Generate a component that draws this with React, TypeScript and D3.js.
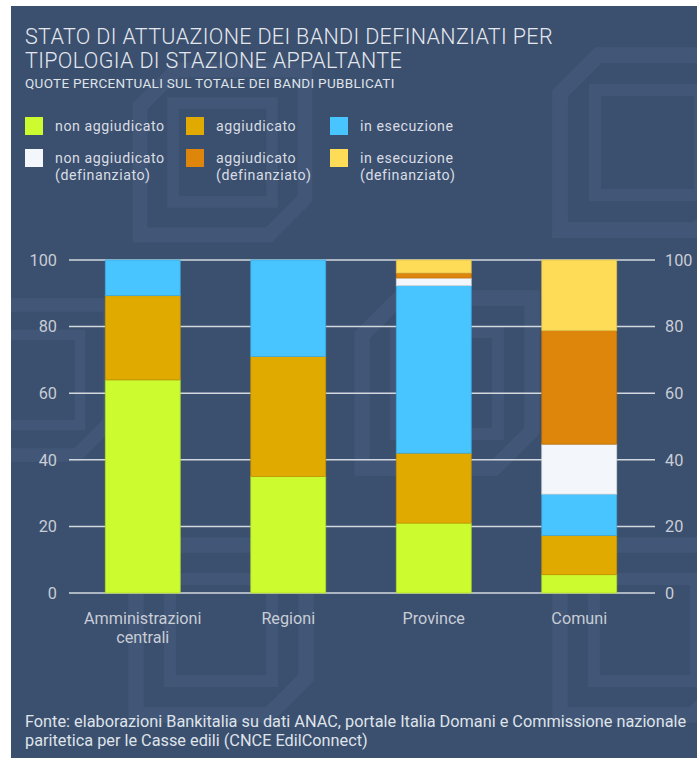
import React from "react";
import * as d3 from "d3";

const categories = ["Amministrazioni centrali", "Regioni", "Province", "Comuni"];
const categoryLines = [["Amministrazioni", "centrali"], ["Regioni"], ["Province"], ["Comuni"]];
const seriesNames = [
  "non aggiudicato",
  "aggiudicato",
  "in esecuzione",
  "non aggiudicato (definanziato)",
  "aggiudicato (definanziato)",
  "in esecuzione (definanziato)",
];
const legendLines = [
  ["non aggiudicato"],
  ["aggiudicato"],
  ["in esecuzione"],
  ["non aggiudicato", "(definanziato)"],
  ["aggiudicato", "(definanziato)"],
  ["in esecuzione", "(definanziato)"],
];
const seriesColors = ["#ccfc2f", "#e0aa00", "#48c4ff", "#f3f7fb", "#de850b", "#ffdc58"];
const nonAggiudicato = [64, 35, 21, 5.5];
const aggiudicato = [25.3, 36, 21, 11.8];
const inEsecuzione = [10.7, 29, 50.3, 12.4];
const nonAggDef = [0, 0, 2.3, 15];
const aggDef = [0, 0, 1.5, 34.1];
const inEseDef = [0, 0, 3.9, 21.2];
const yTicks = [0, 20, 40, 60, 80, 100];

const W = 697;
const H = 758;
const FONT = "Roboto, 'Noto Sans', sans-serif";

function Logo({ x, y, s }: { x: number; y: number; s: number }) {
  // decorative chamfered square outline, like the background watermark
  const c = s * 0.22;
  const outer = `M${x + c},${y} L${x + s},${y} L${x + s},${y + s - c} L${x + s - c},${y + s} L${x},${y + s} L${x},${y + c} Z`;
  const i = s * 0.2;
  const inner = `M${x + i},${y + i} L${x + s - i},${y + i} L${x + s - i},${y + s - i} L${x + i},${y + s - i} Z`;
  return (
    <g fill="none" stroke="#4a5f80" strokeOpacity={0.5}>
      <path d={outer} strokeWidth={s * 0.09} />
      <path d={inner} strokeWidth={s * 0.07} />
    </g>
  );
}

export default function App() {
  const rows = categories.map((c, i) => ({
    cat: c,
    v0: nonAggiudicato[i],
    v1: aggiudicato[i],
    v2: inEsecuzione[i],
    v3: nonAggDef[i],
    v4: aggDef[i],
    v5: inEseDef[i],
  }));
  const keys = ["v0", "v1", "v2", "v3", "v4", "v5"];
  const stack = d3.stack<any>().keys(keys)(rows);

  const x = d3.scaleBand().domain(categories).range([70, 652]).paddingInner(0.485).paddingOuter(0.2425);
  const y = d3.scaleLinear().domain([0, 100]).range([593, 260]);
  const gridX0 = 69;
  const gridX1 = 655;

  const legendX = [25, 186, 330];
  const legendY = [117, 149];

  return (
    <svg width={W} height={H} style={{ position: "absolute", left: 0, top: 0 }} fontFamily={FONT}>
      <defs>
        <clipPath id="panel">
          <rect x={11} y={6} width={W - 11} height={H - 6} />
        </clipPath>
      </defs>
      <rect x={0} y={0} width={W} height={H} fill="#ffffff" />
      <rect x={11} y={6} width={W - 11} height={H - 6} fill="#3b4f6e" />
      <g clipPath="url(#panel)">
        <Logo x={140} y={70} s={165} />
        <Logo x={560} y={55} s={175} />
        <Logo x={-40} y={305} s={150} />
        <Logo x={362} y={298} s={170} />
        <Logo x={136} y={545} s={170} />
        <Logo x={560} y={545} s={170} />
      </g>

      <text x={25} y={44} fill="#e4e8ee" fontSize={21.5} fontWeight={300} letterSpacing={0.35}>
        STATO DI ATTUAZIONE DEI BANDI DEFINANZIATI PER
      </text>
      <text x={25} y={67.5} fill="#e4e8ee" fontSize={21.5} fontWeight={300} letterSpacing={0.35}>
        TIPOLOGIA DI STAZIONE APPALTANTE
      </text>
      <text x={25} y={88} fill="#dfe3ea" fontSize={13.5} letterSpacing={0.3}>
        QUOTE PERCENTUALI SUL TOTALE DEI BANDI PUBBLICATI
      </text>

      {seriesNames.map((n, i) => {
        const lx = legendX[i % 3];
        const ly = legendY[Math.floor(i / 3)];
        return (
          <g key={n}>
            <rect x={lx} y={ly} width={18} height={18} fill={seriesColors[i]} />
            {legendLines[i].map((t, j) => (
              <text
                key={j}
                x={lx + 30}
                y={ly + 14 + j * 16.5}
                fill="#d9dde4"
                fontSize={14.2}
                letterSpacing={0.55}
              >
                {t}
              </text>
            ))}
          </g>
        );
      })}

      {yTicks.map((t) => (
        <g key={t}>
          <line x1={gridX0} x2={gridX1} y1={y(t)} y2={y(t)} stroke="#d3d8df" strokeWidth={1.5} />
          <text x={57} y={y(t)} dy="0.35em" textAnchor="end" fill="#c8cdd6" fontSize={16.3}>
            {t}
          </text>
          <text x={665} y={y(t)} dy="0.35em" textAnchor="start" fill="#c8cdd6" fontSize={16.3}>
            {t}
          </text>
        </g>
      ))}

      {stack.map((layer, si) => (
        <g key={si} fill={seriesColors[si]}>
          {layer.map((d: any, ci: number) => {
            const h = y(d[0]) - y(d[1]);
            if (h <= 0) return null;
            return (
              <rect
                key={ci}
                x={x(categories[ci])!}
                width={x.bandwidth()}
                y={y(d[1])}
                height={h}
                stroke={d3.color(seriesColors[si])!.darker(0.4).formatHex()}
                strokeWidth={0.8}
              />
            );
          })}
        </g>
      ))}

      {categories.map((c, i) => (
        <g key={c}>
          {categoryLines[i].map((t, j) => (
            <text
              key={j}
              x={x(c)! + x.bandwidth() / 2}
              y={624 + j * 19}
              textAnchor="middle"
              fill="#c8cdd6"
              fontSize={16.2}
            >
              {t}
            </text>
          ))}
        </g>
      ))}

      <text x={25} y={727} fill="#dfe3ea" fontSize={16.3}>
        Fonte: elaborazioni Bankitalia su dati ANAC, portale Italia Domani e Commissione nazionale
      </text>
      <text x={25} y={745.5} fill="#dfe3ea" fontSize={16.3}>
        paritetica per le Casse edili (CNCE EdilConnect)
      </text>
    </svg>
  );
}
